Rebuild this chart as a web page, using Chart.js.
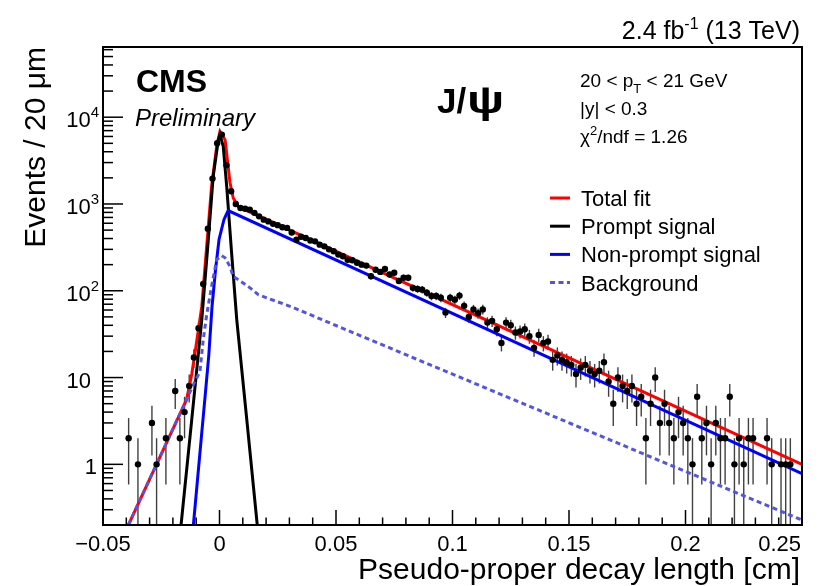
<!DOCTYPE html>
<html>
<head>
<meta charset="utf-8">
<script src="https://cdn.jsdelivr.net/npm/chart.js@4.4.1/dist/chart.umd.min.js"></script>
<style>
  html, body { margin: 0; padding: 0; background: #fff; }
  #wrap { width: 829px; height: 586px; }
</style>
</head>
<body>
<div id="wrap"><canvas id="chart" width="829" height="586"></canvas></div>
<script>
/* J/psi pseudo-proper decay length fit, 20 < pT < 21 GeV, |y| < 0.3 */

const BIN_FIRST = -0.049;   // centre of first 20 um bin [cm]
const BIN_WIDTH = 0.002;

// events per bin, bins from -0.05 to 0.25 cm (null = empty bin)
const counts = [
  null, null, null, null, null, 2, null, 1, null, null,        // -0.049 .. -0.031
  3, 1, null, 2, null, 7, 2, 4, 8, 17,                        // -0.029 .. -0.011
  37, 120, 520, 1960, 5000, 6300, 2800, 1400, 1000, 900,      // -0.009 ..  0.009
  880, 860, 790, 720, 660, 630, 590, 570, 540, 530,           //  0.011 ..  0.029
  470, 388, 420, 406, 380, 371, 340, 325, 300, 285,           //  0.031 ..  0.049
  261, 250, 228, 225, 210, 200, 195, 147, 175, 165,           //  0.051 ..  0.069
  178, 154, 161, 130, 141, 141, 108, 105, 103, 95,            //  0.071 ..  0.089
  87, 87, 83, 56, 83, 79, 88, 67, 50, 61,                     //  0.091 ..  0.109
  55, 61, 43, 45, 36, 25, 43, 40, 33, 34,                     //  0.111 ..  0.129
  36, 30, 22, 31, 25, 26, 16, 18, 16, 15,                     //  0.131 ..  0.149
  14, 11, 13, 14, 12, 11, 12, 15, 9, 5,                       //  0.151 ..  0.169
  10, 8, 7, 8, 5, 6, 2, 5, 10, 3,                             //  0.171 ..  0.189
  5, 3, 2, 4, 3, 2, 1, 6, 2, 3,                               //  0.191 ..  0.209
  1, 3, 2, 2, 6, 1, 2, 1, 2, 2,                               //  0.211 ..  0.229
  null, null, 2, 1, null, 1, 1, 1, null, null                 //  0.231 ..  0.249
];

// fit components [x cm, events]
const totalFit = [
  [-0.0391, 0.2], [-0.0141, 5.6], [-0.0119, 11], [-0.0105, 19.3], [-0.0076, 66],
  [-0.0055, 324], [-0.0034, 1590], [-0.0012, 4630], [0.0002, 6840], [0.0024, 5500],
  [0.0045, 1770], [0.0059, 1170], [0.0081, 930], [0.25, 1.0]
];
const promptSignal = [
  [-0.0165, 0.2], [-0.0119, 3.3], [-0.0076, 46.6], [-0.0048, 388], [-0.0027, 2090],
  [-0.0005, 5500], [0.0002, 6300], [0.0016, 4630], [0.0031, 1590], [0.0052, 272],
  [0.0074, 46.6], [0.0117, 3.3], [0.0162, 0.2]
];
const nonPromptSignal = [
  [-0.0112, 0.2], [-0.0079, 1.9], [-0.0062, 6], [-0.0046, 18], [-0.0032, 66],
  [-0.0017, 175], [-0.0002, 390], [0.0019, 660], [0.0037, 840], [0.25, 0.78]
];
const background = [
  [-0.0391, 0.2], [-0.0141, 5.6], [-0.0112, 8.3], [-0.0084, 11.7], [-0.0070, 27],
  [-0.0055, 53], [-0.0034, 112], [-0.0012, 228], [0.0009, 254], [0.0024, 240],
  [0.0045, 190], [0.0059, 146], [0.0081, 134], [0.0131, 108], [0.0167, 90],
  [0.031, 65], [0.25, 0.228]
];

const xTickValues = [-0.05, 0, 0.05, 0.1, 0.15, 0.2, 0.25];
const yDecades = [1, 10, 100, 1000, 10000];

const FONT = '"Liberation Sans", Arial, Helvetica, sans-serif';
const fontStr = r => `${r.style || ''} ${r.size}px ${FONT}`;

function runsWidth(ctx, runs) {
  let w = 0;
  runs.forEach(r => { ctx.font = fontStr(r); w += ctx.measureText(r.t).width; });
  return w;
}
function drawRuns(ctx, x, y, runs) {
  runs.forEach(r => {
    ctx.font = fontStr(r);
    ctx.fillText(r.t, x, y + (r.dy || 0));
    x += ctx.measureText(r.t).width;
  });
}
function seg(ctx, x1, y1, x2, y2) {
  ctx.beginPath(); ctx.moveTo(x1, y1); ctx.lineTo(x2, y2); ctx.stroke();
}
const toXY = arr => arr.map(p => ({ x: p[0], y: p[1] }));

const points = [];
counts.forEach((n, i) => { if (n) points.push({ x: BIN_FIRST + i * BIN_WIDTH, y: n }); });

/* ── error bars, frame, ticks and all text, ROOT style ── */
const rootStyle = {
  id: 'rootStyle',
  beforeDatasetsDraw(chart) {
    const ctx = chart.ctx, xs = chart.scales.x, ys = chart.scales.y, a = chart.chartArea;
    ctx.save();
    ctx.strokeStyle = 'rgba(0,0,0,0.75)';
    ctx.lineWidth = 1.4;
    chart.data.datasets[0].data.forEach(p => {
      const e = Math.sqrt(p.y);
      const px = xs.getPixelForValue(p.x);
      const top = Math.max(a.top, ys.getPixelForValue(p.y + e));
      const bot = p.y - e > 0 ? Math.min(a.bottom, ys.getPixelForValue(p.y - e)) : a.bottom;
      seg(ctx, px, top, px, bot);
    });
    ctx.restore();
  },
  afterDraw(chart) {
    const ctx = chart.ctx, xs = chart.scales.x, ys = chart.scales.y, a = chart.chartArea;
    ctx.save();
    ctx.fillStyle = '#000';
    ctx.strokeStyle = '#000';

    // frame
    ctx.lineWidth = 2;
    ctx.strokeRect(a.left, a.top, a.right - a.left, a.bottom - a.top);

    // y ticks (inside)
    ctx.lineWidth = 1.5;
    for (let k = -1; k <= 4; k++) {
      for (let m = 1; m <= 9; m++) {
        const v = m * Math.pow(10, k);
        if (v < ys.min || v > ys.max) continue;
        const py = ys.getPixelForValue(v);
        seg(ctx, a.left, py, a.left + (m === 1 ? 20 : 10), py);
      }
    }
    // x ticks (inside)
    for (let i = -5; i <= 25; i++) {
      const px = xs.getPixelForValue(i / 100);
      seg(ctx, px, a.bottom, px, a.bottom - (i % 5 === 0 ? 15 : 7.5));
    }

    // y labels
    yDecades.forEach(v => {
      const py = ys.getPixelForValue(v);
      const k = Math.round(Math.log10(v));
      if (k === 0) {
        ctx.font = fontStr({ size: 22 }); ctx.textAlign = 'right';
        ctx.fillText('1', 97, py + 10);
      } else if (k === 1) {
        ctx.font = fontStr({ size: 22 }); ctx.textAlign = 'right';
        ctx.fillText('10', 91, py + 10);
      } else {
        ctx.textAlign = 'left';
        const runs = [{ t: '10', size: 22 }, { t: String(k), size: 15, dy: -10 }];
        drawRuns(ctx, 99 - runsWidth(ctx, runs), py + 10, runs);
      }
    });

    // x labels (last one kept inside the pad, as ROOT does)
    ctx.font = fontStr({ size: 22 });
    xTickValues.forEach((v, i) => {
      const s = v === 0 ? '0' : String(Math.round(v * 100) / 100).replace('-', '\u2212');
      const last = i === xTickValues.length - 1;
      ctx.textAlign = last ? 'right' : 'center';
      ctx.fillText(s, last ? 801 : xs.getPixelForValue(v), 551);
    });

    // axis titles
    ctx.font = fontStr({ size: 30 });
    ctx.textAlign = 'right';
    ctx.fillText('Pseudo-proper decay length [cm]', 800, 579);
    ctx.save();
    ctx.translate(45, 47);
    ctx.rotate(-Math.PI / 2);
    ctx.fillText('Events / 20 \u03bcm', 0, 0);
    ctx.restore();

    // luminosity
    ctx.textAlign = 'left';
    const lumi = [{ t: '2.4 fb', size: 25 }, { t: '-1', size: 16, dy: -10 }, { t: ' (13 TeV)', size: 25 }];
    drawRuns(ctx, 800 - runsWidth(ctx, lumi), 39, lumi);

    // CMS Preliminary, J/psi
    ctx.font = fontStr({ size: 32, style: 'bold' });
    ctx.fillText('CMS', 136, 92);
    ctx.font = fontStr({ size: 24, style: 'italic' });
    ctx.fillText('Preliminary', 135, 126);
    ctx.font = fontStr({ size: 35, style: 'bold' });
    ctx.fillText('J/', 437, 113);
    ctx.save();
    ctx.translate(467, 113);
    ctx.scale(1.3, 1);
    ctx.font = fontStr({ size: 38, style: 'bold' });
    ctx.fillText('\u03c8', 0, 0);
    ctx.restore();

    // selection text
    drawRuns(ctx, 580, 87, [{ t: '20 < p', size: 19 }, { t: 'T', size: 13, dy: 6 }, { t: ' < 21 GeV', size: 19 }]);
    drawRuns(ctx, 580, 115, [{ t: '|y| < 0.3', size: 19 }]);
    drawRuns(ctx, 580, 143, [{ t: '\u03c7', size: 19 }, { t: '2', size: 13, dy: -8 }, { t: '/ndf = 1.26', size: 19 }]);

    // legend
    const rows = [4, 3, 2, 1];
    rows.forEach((di, r) => {
      const ds = chart.data.datasets[di];
      const cy = 198 + r * 28.2;
      ctx.save();
      ctx.strokeStyle = ds.borderColor;
      ctx.lineWidth = 3;
      ctx.setLineDash(ds.borderDash || []);
      seg(ctx, 550, cy, 570, cy);
      ctx.restore();
      ctx.font = fontStr({ size: 22 });
      ctx.textAlign = 'left';
      ctx.fillText(ds.label, 581, cy + 8);
    });
    ctx.restore();
  }
};

const curve = (label, data, color, dash) => ({
  label, data: toXY(data), showLine: true, borderColor: color, backgroundColor: color,
  borderWidth: 3, borderDash: dash || [], pointRadius: 0, tension: 0, fill: false
});

new Chart(document.getElementById('chart'), {
  type: 'scatter',
  data: {
    datasets: [
      { label: 'Data', data: points, showLine: false, pointRadius: 3.2, pointBackgroundColor: '#000',
        pointBorderColor: '#000', pointBorderWidth: 0 },
      curve('Background', background, '#5454e4', [5, 3.5]),
      curve('Non-prompt signal', nonPromptSignal, '#0000ff'),
      curve('Prompt signal', promptSignal, '#000000'),
      curve('Total fit', totalFit, '#ff0000'),
    ],
  },
  options: {
    responsive: false,
    animation: false,
    devicePixelRatio: 1,
    layout: { padding: { top: 47, right: 27, left: 0, bottom: 0 } },
    plugins: { legend: { display: false }, tooltip: { enabled: false } },
    scales: {
      x: { type: 'linear', min: -0.05, max: 0.25, bounds: 'data',
           ticks: { display: false }, grid: { display: false }, border: { display: false },
           afterFit: s => { s.height = 61; } },
      y: { type: 'logarithmic', min: 0.2, max: 64400, bounds: 'data',
           ticks: { display: false }, grid: { display: false }, border: { display: false },
           afterFit: s => { s.width = 103; } },
    },
  },
  plugins: [rootStyle],
});
</script>
</body>
</html>
